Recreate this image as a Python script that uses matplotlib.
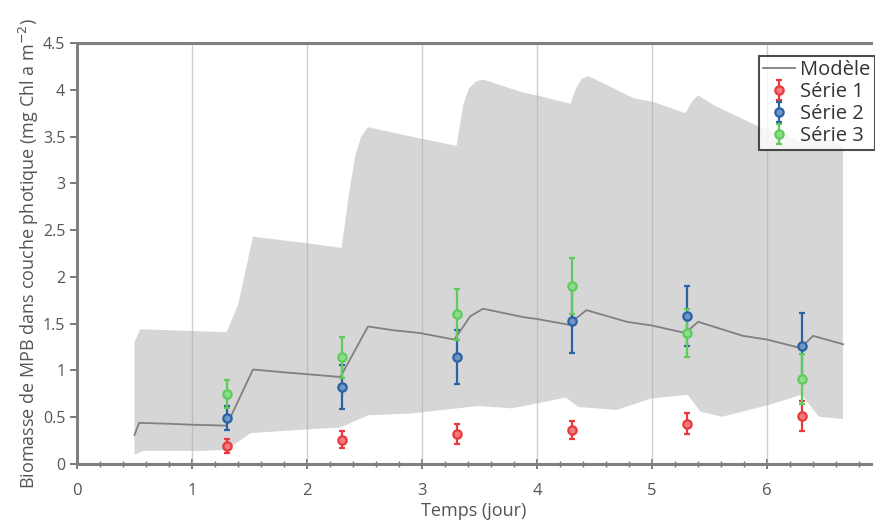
import matplotlib.pyplot as plt
import numpy as np

plt.rcParams['font.family'] = ['Open Sans', 'DejaVu Sans']

# modele (ligne moyenne)
model_t = [0.50, 0.54, 0.80, 1.00, 1.30, 1.53, 1.80, 2.00, 2.29, 2.53, 2.75, 2.98,
           3.28, 3.42, 3.53, 3.88, 4.00, 4.27, 4.43, 4.78, 5.00, 5.29, 5.40, 5.79,
           6.00, 6.29, 6.40, 6.66]
model_y = [0.31, 0.44, 0.43, 0.42, 0.41, 1.01, 0.98, 0.96, 0.93, 1.47, 1.43, 1.40,
           1.33, 1.58, 1.66, 1.57, 1.55, 1.49, 1.645, 1.52, 1.48, 1.40, 1.52, 1.37,
           1.33, 1.24, 1.37, 1.28]

# enveloppe haute / basse
up_t = [0.50, 0.55, 1.30, 1.40, 1.53, 2.00, 2.30, 2.37, 2.42, 2.47, 2.53, 2.98, 3.30,
        3.36, 3.41, 3.47, 3.53, 3.88, 4.00, 4.29, 4.34, 4.39, 4.45, 4.84, 5.01, 5.29,
        5.35, 5.40, 5.56, 5.94, 6.29, 6.40, 6.66]
up_y = [1.30, 1.44, 1.41, 1.70, 2.43, 2.36, 2.31, 2.93, 3.30, 3.50, 3.60, 3.48, 3.40,
        3.85, 4.02, 4.09, 4.11, 3.97, 3.94, 3.85, 4.02, 4.12, 4.145, 3.91, 3.87, 3.75,
        3.88, 3.94, 3.82, 3.60, 3.45, 3.55, 3.40]
lo_t = [0.50, 0.58, 1.07, 1.30, 1.51, 2.00, 2.29, 2.53, 2.90, 3.49, 3.78, 4.25,
        4.36, 4.69, 4.99, 5.31, 5.42, 5.61, 6.01, 6.30, 6.45, 6.66]
lo_y = [0.10, 0.14, 0.14, 0.15, 0.33, 0.37, 0.39, 0.52, 0.54, 0.62, 0.595, 0.71,
        0.61, 0.577, 0.70, 0.74, 0.56, 0.505, 0.63, 0.74, 0.505, 0.48]

# mesures
t_obs = [1.3, 2.3, 3.3, 4.3, 5.3, 6.3]
s1 = [0.19, 0.26, 0.32, 0.36, 0.43, 0.51]
e1 = [0.075, 0.09, 0.105, 0.095, 0.11, 0.16]
s2 = [0.49, 0.82, 1.14, 1.53, 1.58, 1.26]
e2 = [0.13, 0.235, 0.29, 0.34, 0.32, 0.35]
s3 = [0.75, 1.14, 1.60, 1.90, 1.40, 0.91]
e3 = [0.15, 0.22, 0.27, 0.30, 0.26, 0.27]

series = [('Série 1', s1, e1, '#e8393c', '#f07a7c'),
          ('Série 2', s2, e2, '#2b62a3', '#6f96c6'),
          ('Série 3', s3, e3, '#5dcc5d', '#8ddb8d')]

fig = plt.figure(figsize=(8.75, 5.21), dpi=100)
ax = fig.add_axes([0.088, 0.1094, 0.907, 0.808])

ax.fill(np.concatenate([up_t, lo_t[::-1]]), np.concatenate([up_y, lo_y[::-1]]),
        color='#d6d6d6', lw=0, zorder=1)
for g in range(1, 7):
    ax.axvline(g, color='#b0b0b0', lw=1, alpha=0.6, zorder=2)

ax.plot(model_t, model_y, color='#808080', lw=1.3, label='Modèle', zorder=3)
for name, y, e, c, fc in series:
    ax.errorbar(t_obs, y, yerr=e, fmt='o', color=c, ms=6, mfc=fc, mec=c, mew=1.6,
                elinewidth=1.6, capsize=2.5, capthick=1.6, label=name, zorder=4)

ax.set_xlim(0, 6.9)
ax.set_ylim(0, 4.5)
ax.set_xticks(range(0, 7))
ax.set_xticks(np.arange(0, 6.9, 0.2), minor=True)
ax.set_yticks(np.arange(0, 4.51, 0.5))
ax.set_yticklabels(['0', '0.5', '1', '1.5', '2', '2.5', '3', '3.5', '4', '4.5'])

for s in ['top', 'bottom', 'left']:
    ax.spines[s].set_color('#808080')
    ax.spines[s].set_linewidth(2.2)
ax.spines['right'].set_visible(False)
ax.tick_params(axis='x', which='major', direction='inout', length=7, width=1.3,
               color='#707070', labelcolor='#555555', labelsize=12, top=False, pad=10)
ax.tick_params(axis='x', which='minor', direction='inout', length=5, width=1,
               color='#707070', top=False)
ax.tick_params(axis='y', which='major', direction='out', length=5, width=1.3,
               color='#707070', labelcolor='#555555', labelsize=11.5)

ax.set_xlabel('Temps (jour)', fontsize=13, color='#555555', labelpad=2)
ax.set_ylabel('Biomasse de MPB dans couche photique (mg Chl a m$^{-2}$)',
              fontsize=13, color='#555555', labelpad=1)

leg = ax.legend(loc='upper right', bbox_to_anchor=(1.005, 0.97), fontsize=14.5,
                frameon=True, fancybox=False, handlelength=1.6, handletextpad=0.25,
                borderpad=0.2, labelspacing=0.1, borderaxespad=0.0)
leg.get_frame().set_edgecolor('#222222')
leg.get_frame().set_linewidth(1.5)
for txt in leg.get_texts():
    txt.set_color('#333333')

fig.savefig('out.png', dpi=100)
